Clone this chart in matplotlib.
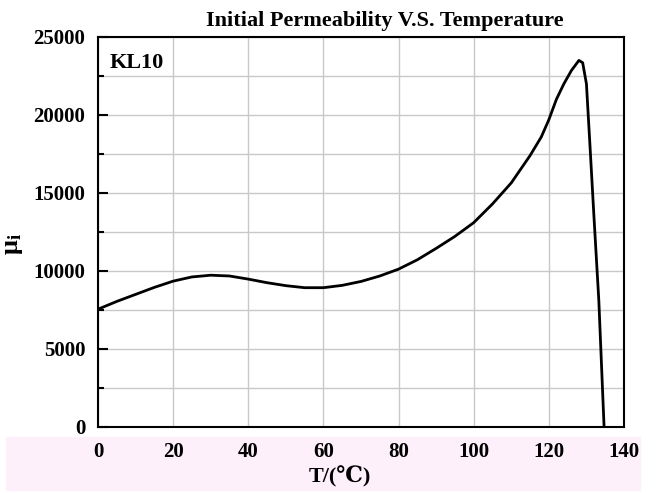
import numpy as np
import matplotlib.pyplot as plt
from matplotlib.patches import Rectangle
from matplotlib.ticker import MultipleLocator

plt.rcParams['font.family'] = ['Liberation Serif', 'DejaVu Serif']
plt.rcParams['mathtext.fontset'] = 'custom'
plt.rcParams['mathtext.rm'] = 'Liberation Serif:bold'

# temperature (C) and initial permeability
temp = [0, 5, 10, 15, 20, 25, 30, 35, 40, 45, 50, 55, 60, 65, 70, 75, 80,
        85, 90, 95, 100, 105, 110, 115, 118, 120, 122, 124, 126, 128, 129,
        130, 131, 132, 133.3, 134.7]
mu_i = [7550, 8050, 8500, 8950, 9350, 9620, 9730, 9680, 9480, 9250, 9060,
        8930, 8930, 9080, 9330, 9680, 10120, 10720, 11450, 12220, 13100,
        14300, 15650, 17400, 18600, 19700, 21000, 22000, 22850, 23500, 23350,
        22000, 17800, 13500, 8100, 0]

x_ticks = [0, 20, 40, 60, 80, 100, 120, 140]
y_ticks = [0, 5000, 10000, 15000, 20000, 25000]

fig = plt.figure(figsize=(6.56, 4.93), dpi=100)
fig.patches.append(Rectangle((6 / 656, 3 / 493), 634 / 656, 53 / 493,
                             transform=fig.transFigure, color='#fdf0fa',
                             zorder=-5))

ax = fig.add_axes([98 / 656, 66 / 493, 526 / 656, 390 / 493])
ax.plot(temp, mu_i, color='black', lw=2, zorder=3)

ax.set_xlim(0, 140)
ax.set_ylim(0, 25000)
ax.set_xticks(x_ticks)
ax.set_yticks(y_ticks)
ax.yaxis.set_minor_locator(MultipleLocator(2500))
ax.grid(True, which='major', color='#c8c8c8', lw=1)
ax.grid(True, which='minor', axis='y', color='#c8c8c8', lw=1)
ax.set_axisbelow(True)

for s in ax.spines.values():
    s.set_linewidth(1.5)

ax.tick_params(axis='y', which='major', direction='in', length=7, width=1.5,
               pad=9, labelsize=15)
ax.tick_params(axis='y', which='minor', direction='in', length=4, width=1.5)
ax.tick_params(axis='x', which='major', length=0, pad=11, labelsize=15)
for lab in ax.get_xticklabels() + ax.get_yticklabels():
    lab.set_fontweight('bold')

ax.set_title('Initial Permeability V.S. Temperature', fontsize=16,
             fontweight='bold', x=0.545, pad=8)
ax.set_xlabel('T/(\u2103)', fontsize=16, fontweight='bold', labelpad=3,
              x=0.46)
ax.set_ylabel(r'$\mathregular{\mu_i}$', fontsize=19, fontweight='bold',
              labelpad=6, y=0.47)
ax.text(0.022, 0.96, 'KL10', transform=ax.transAxes, fontsize=16,
        fontweight='bold', va='top', ha='left')

fig.savefig('out.png', dpi=100)
